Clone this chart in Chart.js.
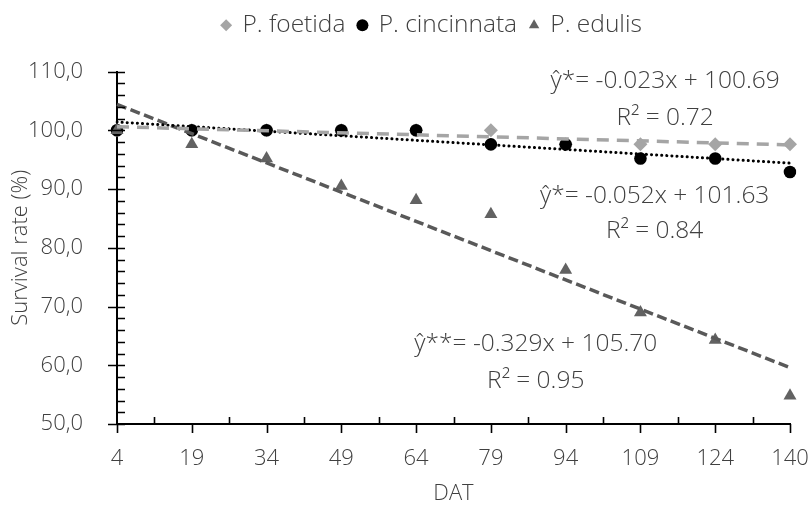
<!DOCTYPE html>
<html lang="en">
<head>
  <meta charset="UTF-8" />
  <title>Survival rate</title>
  <script src="https://cdn.jsdelivr.net/npm/chart.js"></script>
  <style>
    html, body { margin: 0; padding: 0; background: #fff; }
    #box { width: 811px; height: 511px; }
  </style>
</head>
<body>
  <div id="box"><canvas id="grafico"></canvas></div>
  <script>
    // dados
    const dias = ['4', '19', '34', '49', '64', '79', '94', '109', '124', '140'];
    const foetida = [100, 100, 100, 100, 100, 100, 97.6, 97.6, 97.6, 97.6];
    const cincinnata = [100, 100, 100, 100, 100, 97.6, 97.6, 95.2, 95.2, 92.9];
    const edulis = [100, 97.6, 95.2, 90.5, 88.1, 85.7, 76.2, 69.0, 64.3, 54.8];
    // pontas das linhas de tendencia (primeiro e ultimo dia)
    const tendFoetida = [100.6, 97.5];
    const tendCincinnata = [101.4, 94.4];
    const tendEdulis = [104.4, 59.6];
    const equacoes = [
      ['ŷ*= -0.023x + 100.69', 'R² = 0.72'],
      ['ŷ*= -0.052x + 101.63', 'R² = 0.84'],
      ['ŷ**= -0.329x + 105.70', 'R² = 0.95']
    ];

    const FONTE = "'Open Sans', 'Segoe UI', sans-serif";
    const TEXTO = '#404040';
    const TAM_LEGENDA = 24.5;

    function tendencia(pontas) {
      return dias.map((d, i) => i === 0 ? pontas[0] : (i === dias.length - 1 ? pontas[1] : null));
    }

    // tracinhos dos eixos (maiores e menores)
    const tracosEixos = {
      id: 'tracosEixos',
      afterDraw(chart) {
        const { ctx, chartArea: a, scales: { x, y } } = chart;
        ctx.save();
        ctx.strokeStyle = '#000';
        ctx.lineWidth = 1.6;
        ctx.beginPath();
        for (let v = 50; v <= 110; v += 2) {
          const py = Math.round(y.getPixelForValue(v)) + 0.5;
          if (v % 10 === 0) {
            ctx.moveTo(a.left - 9, py); ctx.lineTo(a.left + 8, py);
          } else {
            ctx.moveTo(a.left, py); ctx.lineTo(a.left + 8, py);
          }
        }
        for (let i = 0; i < dias.length; i++) {
          const px = Math.round(x.getPixelForValue(i)) + 0.5;
          ctx.moveTo(px, a.bottom); ctx.lineTo(px, a.bottom + 9);
          if (i < dias.length - 1) {
            const pm = Math.round(x.getPixelForValue(i + 0.5)) + 0.5;
            ctx.moveTo(pm, a.bottom); ctx.lineTo(pm, a.bottom - 7);
          }
        }
        ctx.stroke();
        ctx.restore();
      }
    };

    // textos das equacoes
    const posEquacoes = [
      { x: 7.33, y: [108.4, 102.1] },
      { x: 7.19, y: [88.8, 82.8] },
      { x: 5.6, y: [63.6, 57.3] }
    ];
    const textoEquacoes = {
      id: 'textoEquacoes',
      afterDraw(chart) {
        const { ctx, scales: { x, y } } = chart;
        ctx.save();
        ctx.fillStyle = TEXTO;
        ctx.font = '300 ' + TAM_LEGENDA + 'px ' + FONTE;
        ctx.textAlign = 'center';
        ctx.textBaseline = 'middle';
        equacoes.forEach((linhas, k) => {
          const p = posEquacoes[k];
          linhas.forEach((t, j) => {
            ctx.fillText(t, x.getPixelForValue(p.x), y.getPixelForValue(p.y[j]));
          });
        });
        ctx.restore();
      }
    };

    // legenda um pouco deslocada, como no original
    const moverLegenda = {
      id: 'moverLegenda',
      afterLayout(chart) {
        const lg = chart.legend;
        if (!lg) return;
        const dx = 432 - (lg.left + lg.right) / 2;
        lg.left += dx; lg.right += dx;
        const dy = 0 - lg.top;
        lg.top += dy; lg.bottom += dy;
      }
    };

    new Chart(document.getElementById('grafico'), {
      type: 'line',
      data: {
        labels: dias,
        datasets: [
          { label: 'P. foetida', data: foetida, showLine: false, pointStyle: 'rectRot', pointRadius: 7,
            backgroundColor: '#A5A5A5', borderColor: '#A5A5A5', borderWidth: 0, order: 3 },
          { label: 'P. cincinnata', data: cincinnata, showLine: false, pointStyle: 'circle', pointRadius: 6.3,
            backgroundColor: '#000', borderColor: '#000', borderWidth: 0, order: 2 },
          { label: 'P. edulis', data: edulis, showLine: false, pointStyle: 'triangle', pointRadius: 7.5,
            backgroundColor: '#626262', borderColor: '#626262', borderWidth: 0, order: 1 },
          { label: 'tend', data: tendencia(tendFoetida), spanGaps: true, pointRadius: 0, borderColor: '#A5A5A5',
            borderWidth: 3.5, borderDash: [12, 8], order: 0 },
          { label: 'tend', data: tendencia(tendCincinnata), spanGaps: true, pointRadius: 0, borderColor: '#000',
            borderWidth: 3, borderDash: [0.1, 5], borderCapStyle: 'round', order: 0 },
          { label: 'tend', data: tendencia(tendEdulis), spanGaps: true, pointRadius: 0, borderColor: '#595959',
            borderWidth: 3.5, borderDash: [10, 4.5], order: 0 }
        ]
      },
      options: {
        responsive: true,
        maintainAspectRatio: false,
        animation: false,
        layout: { padding: { top: 24, right: 21, left: 4, bottom: 0 } },
        plugins: {
          legend: {
            position: 'top',
            labels: {
              usePointStyle: true,
              boxWidth: 8,
              boxHeight: 8.5,
              padding: 13,
              color: TEXTO,
              font: { family: FONTE, size: TAM_LEGENDA, weight: '300' },
              filter: item => item.text !== 'tend',
              sort: (a, b) => a.datasetIndex - b.datasetIndex
            }
          },
          tooltip: { enabled: false }
        },
        scales: {
          x: {
            grid: { display: false },
            border: { display: true, color: '#000', width: 2 },
            ticks: { color: TEXTO, padding: 14, maxRotation: 0, autoSkip: false,
              font: { family: FONTE, size: 22, weight: '300' } },
            title: { display: true, text: 'DAT', color: TEXTO, padding: { top: 4 },
              font: { family: FONTE, size: 22, weight: '300' } },
            afterFit: s => { s.height = 87; s.paddingLeft = 0; s.paddingRight = 0; }
          },
          y: {
            min: 50,
            max: 110,
            grid: { display: false },
            border: { display: true, color: '#000', width: 2 },
            ticks: { stepSize: 10, color: TEXTO, padding: 26,
              font: { family: FONTE, size: 22, weight: '300' },
              callback: v => v.toFixed(1).replace('.', ',') },
            title: { display: true, text: 'Survival rate (%)', color: TEXTO, padding: { bottom: 0 },
              font: { family: FONTE, size: 22, weight: '300' } },
            afterFit: s => { s.width = 113; }
          }
        }
      },
      plugins: [tracosEixos, textoEquacoes, moverLegenda]
    });
  </script>
</body>
</html>
